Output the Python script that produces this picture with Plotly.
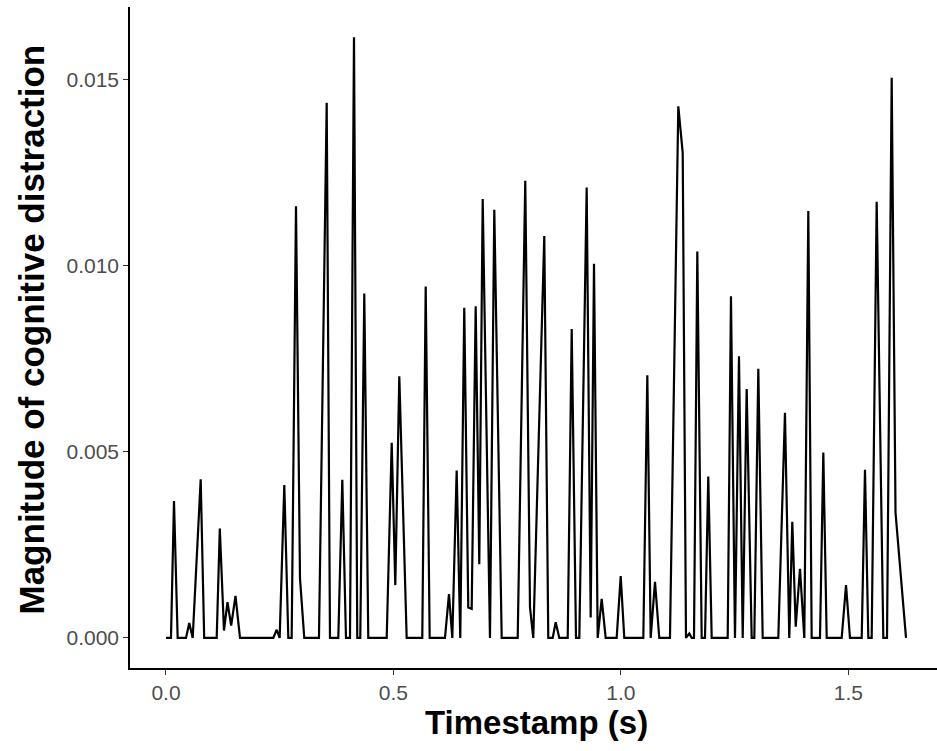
import plotly.graph_objects as go

# Timestamp (s) of each vertex of the series
timestamp = [
    0.0000, 0.0110, 0.0176, 0.0257, 0.0440, 0.0512, 0.0587, 0.0763, 0.0840, 0.1115,
    0.1183, 0.1275, 0.1352, 0.1433, 0.1528, 0.1627, 0.2359, 0.2434, 0.2499, 0.2601,
    0.2689, 0.2763, 0.2858, 0.2946, 0.3040, 0.3363, 0.3533, 0.3605, 0.3788, 0.3876,
    0.3957, 0.4045, 0.4133, 0.4205, 0.4271, 0.4359, 0.4447, 0.4852, 0.4962, 0.5041,
    0.5129, 0.5291, 0.5634, 0.5709, 0.5797, 0.6133, 0.6221, 0.6294, 0.6390, 0.6469,
    0.6557, 0.6645, 0.6720, 0.6808, 0.6887, 0.6962, 0.7122, 0.7217, 0.7380, 0.7732,
    0.7898, 0.8002, 0.8074, 0.8316, 0.8404, 0.8501, 0.8567, 0.8646, 0.8831, 0.8919,
    0.9013, 0.9086, 0.9248, 0.9336, 0.9409, 0.9490, 0.9578, 0.9666, 0.9907, 0.9996,
    1.0075, 1.0493, 1.0581, 1.0655, 1.0750, 1.0844, 1.1079, 1.1262, 1.1359, 1.1431,
    1.1504, 1.1557, 1.1607, 1.1680, 1.1776, 1.1849, 1.1921, 1.1996, 1.2348, 1.2420,
    1.2508, 1.2596, 1.2678, 1.2765, 1.2875, 1.2933, 1.3021, 1.3117, 1.3460, 1.3607,
    1.3702, 1.3768, 1.3843, 1.3937, 1.4032, 1.4120, 1.4194, 1.4377, 1.4450, 1.4524,
    1.4854, 1.4949, 1.5036, 1.5294, 1.5366, 1.5439, 1.5513, 1.5623, 1.5769, 1.5850,
    1.5953, 1.6037, 1.6268,
]

# Magnitude of cognitive distraction at each vertex
magnitude = [
    0.0, 0.0, 0.00368, 0.0, 0.0, 0.00040, 0.0, 0.00426, 0.0, 0.0,
    0.00294, 0.00020, 0.00096, 0.00033, 0.00113, 0.0, 0.0, 0.00022, 0.0, 0.00411,
    0.0, 0.0, 0.01160, 0.00160, 0.0, 0.0, 0.01438, 0.0, 0.0, 0.00425,
    0.0, 0.0, 0.01614, 0.0, 0.0, 0.00925, 0.0, 0.0, 0.00524, 0.00142,
    0.00703, 0.0, 0.0, 0.00944, 0.0, 0.0, 0.00118, 0.0, 0.00450, 0.0,
    0.00887, 0.00082, 0.00078, 0.00891, 0.00198, 0.01179, 0.0, 0.01150, 0.0, 0.0,
    0.01228, 0.00082, 0.0, 0.01080, 0.0, 0.0, 0.00042, 0.0, 0.0, 0.00830,
    0.0, 0.0, 0.01210, 0.00055, 0.01005, 0.0, 0.00105, 0.0, 0.0, 0.00166,
    0.0, 0.0, 0.00706, 0.0, 0.00151, 0.0, 0.0, 0.01428, 0.01303, 0.0,
    0.00012, 0.0, 0.0, 0.01038, 0.0, 0.0, 0.00434, 0.0, 0.0, 0.00918,
    0.0, 0.00757, 0.0, 0.00669, 0.0, 0.0, 0.00723, 0.0, 0.0, 0.00605,
    0.0, 0.00312, 0.00030, 0.00186, 0.0, 0.01147, 0.0, 0.0, 0.00498, 0.0,
    0.0, 0.00142, 0.0, 0.0, 0.00452, 0.0, 0.0, 0.01172, 0.0, 0.0,
    0.01505, 0.00337, 0.0,
]

x_ticks = [0.0, 0.5, 1.0, 1.5]
x_tick_labels = ["0.0", "0.5", "1.0", "1.5"]
y_ticks = [0.000, 0.005, 0.010, 0.015]
y_tick_labels = ["0.000", "0.005", "0.010", "0.015"]

x_title = "Timestamp (s)"
y_title = "Magnitude of cognitive distraction"

fig = go.Figure()
fig.add_trace(go.Scatter(
    x=timestamp, y=magnitude, mode="lines",
    line=dict(color="black", width=2.2),
    hoverinfo="x+y", showlegend=False,
))

tick_font = dict(family="Liberation Sans, Arial, sans-serif", size=21, color="#4D4D4D")
x_title_font = dict(family="Liberation Sans, Arial, sans-serif", size=33, color="black")
y_title_font = dict(family="Liberation Sans, Arial, sans-serif", size=35, color="black")

fig.update_layout(
    width=937, height=751,
    margin=dict(l=130, r=0, t=7, b=83, pad=0),
    paper_bgcolor="white", plot_bgcolor="white",
    xaxis=dict(
        range=[-0.0791, 1.6949], showgrid=False, zeroline=False,
        showline=True, linecolor="black", linewidth=1.5,
        ticks="outside", ticklen=5, tickwidth=1.2, tickcolor="#333333",
        tickvals=x_ticks, ticktext=x_tick_labels, tickfont=tick_font,
    ),
    yaxis=dict(
        range=[-0.000807, 0.01695], showgrid=False, zeroline=False,
        showline=True, linecolor="black", linewidth=1.5,
        ticks="outside", ticklen=5, tickwidth=1.2, tickcolor="#333333",
        tickvals=y_ticks, ticktext=y_tick_labels, tickfont=tick_font,
    ),
    annotations=[
        dict(text="<b>" + x_title + "</b>", xref="paper", yref="paper",
             x=0.5, y=0, xanchor="center", yanchor="middle", yshift=-54, xshift=3,
             showarrow=False, font=x_title_font),
        dict(text="<b>" + y_title + "</b>", xref="paper", yref="paper",
             x=0, y=0.5, xanchor="center", yanchor="middle", xshift=-99, yshift=8,
             textangle=-90, showarrow=False, font=y_title_font),
    ],
)

fig.write_html("out.html")
